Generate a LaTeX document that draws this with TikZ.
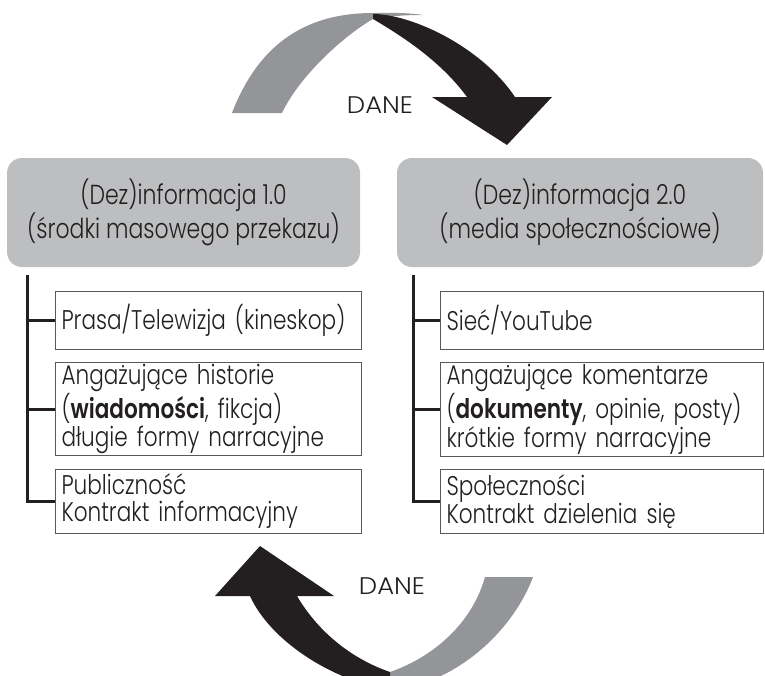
\documentclass[tikz,border=0pt]{standalone}
\usepackage{xcolor}
\usepackage{fontspec}
\setmainfont{Poppins Light}[BoldFont={Poppins SemiBold}, FakeStretch=0.8]
\newfontfamily\danefont{Poppins Light}[FakeStretch=1.08]
\usepackage{tikz}
\usetikzlibrary{positioning}

\definecolor{archgray}{HTML}{939598}
\definecolor{archblack}{HTML}{231F20}
\definecolor{headgray}{HTML}{BCBEC0}
\definecolor{framegray}{HTML}{58595B}

\tikzset{
  headbox/.style={fill=headgray, rounded corners=15pt, minimum height=109pt,
    align=center, text=archblack, font=\fontsize{27.5}{32}\selectfont},
  itembox/.style={draw=framegray, line width=1pt, anchor=north west, align=left,
    inner xsep=6pt, inner ysep=2pt, text=archblack, font=\fontsize{27}{27}\selectfont},
  trunk/.style={draw=archblack, line width=3pt},
  danetext/.style={text=archblack, font=\danefont\fontsize{24}{27}\selectfont}
}

\begin{document}
\begin{tikzpicture}[x=1pt, y=-1pt]
  \useasboundingbox (0,0) rectangle (765,675);

  % Upper arch (grey half, then black half with the head)
  \fill[archgray] (232,113) .. controls (260,40) and (310,13) .. (373,13)
    .. controls (395,12.5) and (410,13) .. (423,15)
    .. controls (405,15) and (390,16) .. (373,19)
    .. controls (345,35) and (300,75) .. (282,113) -- cycle;
  \fill[archblack] (373,14) .. controls (410,14) and (480,45) .. (515,97)
    -- (552,97) -- (507,145) -- (432,97) -- (467,97)
    .. controls (440,60) and (400,35) .. (373,19) -- cycle;
  \node[danetext] (topdata) at (380,105) {DANE};

  % Headers
  \node[headbox, minimum width=353pt] (lhead) at (183.5,212.5)
    {(Dez)informacja 1.0\\(środki masowego przekazu)};
  \node[headbox, minimum width=366pt] (rhead) at (580,212.5)
    {(Dez)informacja 2.0\\(media społecznościowe)};

  % Left column
  \node[itembox, text width=294pt, minimum height=58pt] (lbox1) at (55,291)
    {Prasa/Telewizja (kineskop)};
  \node[itembox, text width=294pt, minimum height=93pt] (lbox2) at (55,362)
    {Angażujące historie\\(\textbf{wiadomości}, fikcja)\\długie formy narracyjne};
  \node[itembox, text width=294pt, minimum height=64pt] (lbox3) at (55,469)
    {Publiczność\\Kontrakt informacyjny};
  \coordinate (ltop) at (27,275);
  \draw[trunk] (ltop) |- (lbox3.west);
  \draw[trunk] (ltop |- lbox1.west) -- (lbox1.west);
  \draw[trunk] (ltop |- lbox2.west) -- (lbox2.west);

  % Right column
  \node[itembox, text width=311pt, minimum height=58pt] (rbox1) at (440,291)
    {Sieć/YouTube};
  \node[itembox, text width=311pt, minimum height=93pt] (rbox2) at (440,362)
    {Angażujące komentarze\\(\textbf{dokumenty}, opinie, posty)\\krótkie formy narracyjne};
  \node[itembox, text width=311pt, minimum height=64pt] (rbox3) at (440,469)
    {Społeczności\\Kontrakt dzielenia się};
  \coordinate (rtop) at (413,275);
  \draw[trunk] (rtop) |- (rbox3.west);
  \draw[trunk] (rtop |- rbox1.west) -- (rbox1.west);
  \draw[trunk] (rtop |- rbox2.west) -- (rbox2.west);

  % Lower arch, cut by the page edge
  \begin{scope}
    \clip (0,0) rectangle (765,675);
    \fill[archgray] (533,577) .. controls (515,625) and (465,680) .. (390,692)
      -- (390,672) .. controls (425,660) and (470,630) .. (485,577) -- cycle;
    \fill[archblack] (260,546) -- (334,596) -- (297,596)
      .. controls (320,635) and (355,660) .. (390,672) -- (390,690)
      .. controls (330,680) and (270,640) .. (250,596) -- (215,596) -- cycle;
  \end{scope}
  \node[danetext] (botdata) at (392,586) {DANE};
\end{tikzpicture}
\end{document}
